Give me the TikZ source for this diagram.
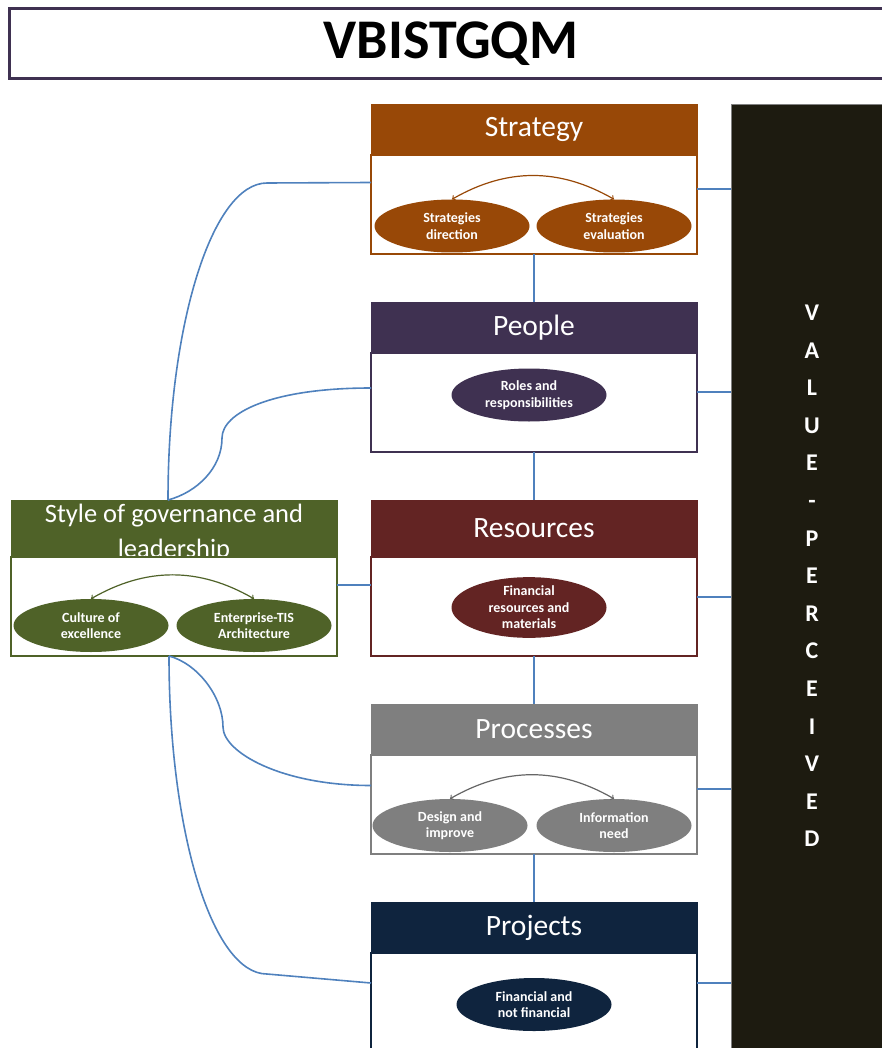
\documentclass[tikz,border=0pt]{standalone}
\usepackage{fontspec}
\setmainfont{Carlito}
\usetikzlibrary{positioning, shapes.geometric}

\definecolor{stratcol}{HTML}{984807}
\definecolor{peoplecol}{HTML}{3F3151}
\definecolor{rescol}{HTML}{632423}
\definecolor{proccol}{HTML}{7F7F7F}
\definecolor{projcol}{HTML}{0F243E}
\definecolor{govcol}{HTML}{4F6228}
\definecolor{barcol}{HTML}{1D1B10}
\definecolor{linkcol}{HTML}{4F81BD}

\newcommand{\titlefont}{\fontsize{56}{60}\selectfont\bfseries}
\newcommand{\headfont}{\fontsize{29.5}{35}\selectfont}
\newcommand{\govfont}{\fontsize{26.5}{35}\selectfont}
\newcommand{\itemfont}{\fontsize{14}{16.5}\selectfont\bfseries}
\newcommand{\barfont}{\fontsize{24}{37.6}\selectfont\bfseries}

\tikzset{
	govpicture/.style = {
		x = 1pt,
		y = 1pt,
		node distance = 48pt,
		link/.style = {
			draw = linkcol,
			line width = 1.6pt
		}
	},
	titlebox/.style = {
		rectangle,
		draw = peoplecol,
		line width = 3pt,
		minimum width = 884pt,
		minimum height = 70pt,
		font = \titlefont
	},
	headnode/.style = {
		rectangle,
		fill = #1,
		draw = #1,
		text = white,
		minimum width = 326pt,
		minimum height = 51pt,
		inner sep = 0pt,
		outer sep = 0pt,
		font = \headfont
	},
	bodynode/.style = {
		rectangle,
		fill = white,
		draw = #1,
		line width = 1.4pt,
		minimum width = 326pt,
		minimum height = 99pt,
		inner sep = 0pt,
		outer sep = 0pt
	},
	itemnode/.style = {
		ellipse,
		fill = #1,
		text = white,
		minimum width = 155pt,
		minimum height = 53pt,
		inner sep = 0pt,
		align = center,
		font = \itemfont
	},
	swap-arrow/.style = {
		draw = #1,
		<->,
		line width = 1.2pt
	},
	valuebar/.style = {
		rectangle,
		fill = barcol,
		draw = gray,
		text = white,
		minimum width = 162pt,
		minimum height = 944pt,
		outer sep = 0pt,
		align = center,
		font = \barfont
	}
}

\begin{document}
\begin{tikzpicture}[govpicture]
	\useasboundingbox (0,0) rectangle (882,-1048);
	\clip (0,0) rectangle (882,-1048);

	\node[titlebox] (title) at (451,-44) {VBISTGQM};

	\node[headnode = stratcol, anchor = north] (strat) at (534,-104) {Strategy};
	\node[bodynode = stratcol, below = 0pt of strat] (strat-body) {};
	\node[headnode = peoplecol, below = of strat-body] (people) {People};
	\node[bodynode = peoplecol, below = 0pt of people] (people-body) {};
	\node[headnode = rescol, minimum height = 57pt, below = of people-body] (res) {Resources};
	\node[bodynode = rescol, below = 0pt of res] (res-body) {};
	\node[headnode = proccol, below = of res-body] (proc) {Processes};
	\node[bodynode = proccol, below = 0pt of proc] (proc-body) {};
	\node[headnode = projcol, below = of proc-body] (proj) {Projects};
	\node[bodynode = projcol, below = 0pt of proj] (proj-body) {};

	\node[headnode = govcol, anchor = north, minimum height = 57pt, text width = 326pt, align = flush center, text height = 22pt, text depth = 35pt, font = \govfont] (gov) at (174,-500) {Style of governance and\\leadership};
	\node[bodynode = govcol, below = 0pt of gov] (gov-body) {};

	\node[valuebar] (bar) at (812,-576) {V\\A\\L\\U\\E\\-\\P\\E\\R\\C\\E\\I\\V\\E\\D};

	\node[itemnode = stratcol] (str-dir) at ([xshift = -82pt, yshift = -21.5pt]strat-body.center) {Strategies\\direction};
	\node[itemnode = stratcol] (str-eval) at ([xshift = 80pt, yshift = -21.5pt]strat-body.center) {Strategies\\evaluation};
	\node[itemnode = peoplecol] (roles) at ([xshift = -5pt, yshift = 7.5pt]people-body.center) {Roles and\\responsibilities};
	\node[itemnode = rescol] (finres) at ([xshift = -5pt, yshift = -1pt]res-body.center) {Financial\\resources and\\materials};
	\node[itemnode = proccol] (design) at ([xshift = -84pt, yshift = -21pt]proc-body.center) {Design and\\improve};
	\node[itemnode = proccol] (info) at ([xshift = 80pt, yshift = -21pt]proc-body.center) {Information\\need};
	\node[itemnode = projcol] (finproj) at ([xshift = 0pt, yshift = -2pt]proj-body.center) {Financial and\\not financial};
	\node[itemnode = govcol] (culture) at ([xshift = -83pt, yshift = -19pt]gov-body.center) {Culture of\\excellence};
	\node[itemnode = govcol] (archi) at ([xshift = 80pt, yshift = -19pt]gov-body.center) {Enterprise-TIS\\Architecture};

	\path[swap-arrow = stratcol] (str-dir.north) to[bend left = 30] (str-eval.north);
	\path[swap-arrow = proccol!80!black] (design.north) to[bend left = 30] (info.north);
	\path[swap-arrow = govcol] (culture.north) to[bend left = 30] (archi.north);

	\begin{scope}[every path/.style = link]
		\path (strat-body) -- (people);
		\path (people-body) -- (res);
		\path (res-body) -- (proc);
		\path (proc-body) -- (proj);

		\path ([yshift = 15.5pt]strat-body.east) -- ([yshift = 15.5pt]strat-body.east -| bar.west);
		\path ([yshift = 10.5pt]people-body.east) -- ([yshift = 10.5pt]people-body.east -| bar.west);
		\path ([yshift = 9.5pt]res-body.east) -- ([yshift = 9.5pt]res-body.east -| bar.west);
		\path ([yshift = 15.5pt]proc-body.east) -- ([yshift = 15.5pt]proc-body.east -| bar.west);
		\path ([yshift = 19.5pt]proj-body.east) -- ([yshift = 19.5pt]proj-body.east -| bar.west);

		\path ([yshift = 21.5pt]gov-body.east) -- ([yshift = 21.5pt]res-body.west);
		\path ([xshift = -6pt]gov.north) to[out = 90, in = 180, out distance = 175pt, in distance = 55pt] ++(99pt,317pt) -- ([yshift = 22pt]strat-body.west);
		\path ([xshift = -6pt]gov.north) to[out = 15, in = -90, out distance = 30pt, in distance = 30pt] ++(54pt,62pt) to[out = 90, in = 180, out distance = 25pt, in distance = 100pt] ([yshift = 14.5pt]people-body.west);
		\path ([xshift = -5pt]gov-body.south) to[out = -15, in = 90, out distance = 30pt, in distance = 30pt] ++(54pt,-71pt) to[out = -90, in = 180, out distance = 25pt, in distance = 90pt] ([yshift = 19pt]proc-body.west);
		\path ([xshift = -5pt]gov-body.south) to[out = -90, in = 180, out distance = 175pt, in distance = 55pt] ++(98pt,-318pt) -- ([yshift = 19.5pt]proj-body.west);
	\end{scope}
\end{tikzpicture}
\end{document}
